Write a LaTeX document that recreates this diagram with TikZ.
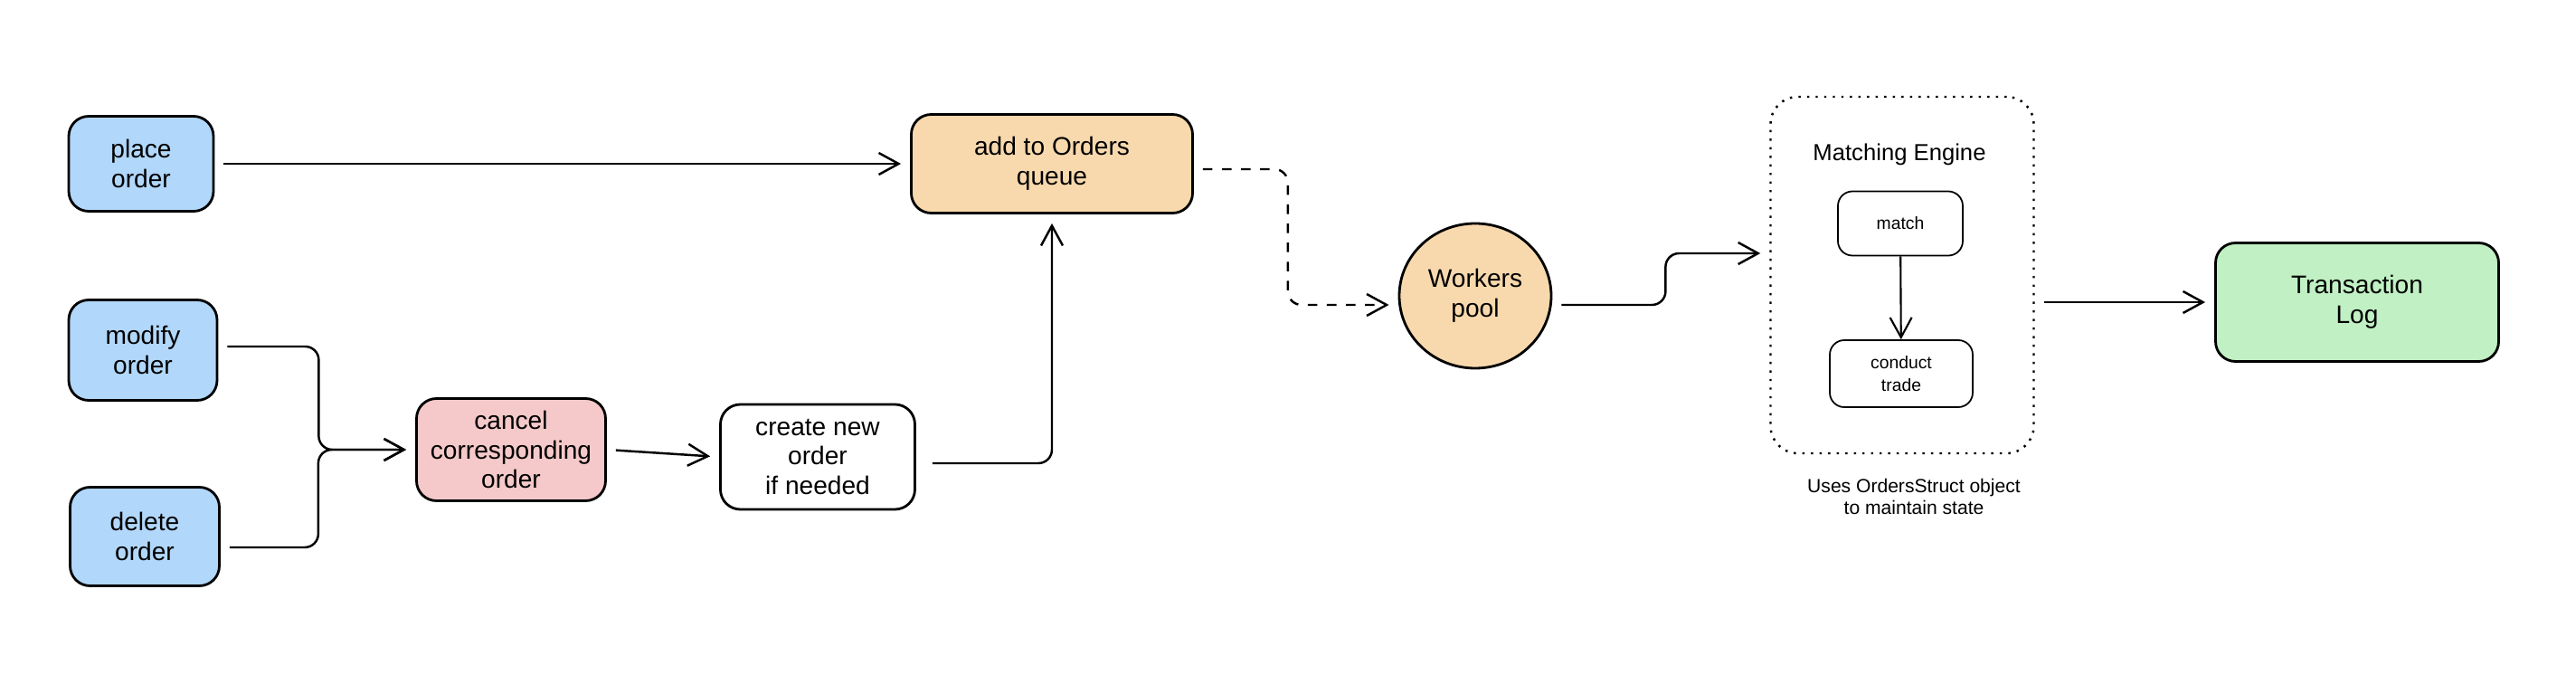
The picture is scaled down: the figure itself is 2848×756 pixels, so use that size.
\documentclass[tikz,border=0pt]{standalone}
\usepackage{fontspec}
\setmainfont{Liberation Sans}
\usepackage{tikz}
\usetikzlibrary{arrows.meta}
\usetikzlibrary{shapes.geometric}

\definecolor{orderblue}{HTML}{B1D7FA}
\definecolor{queueorange}{HTML}{F8D9AD}
\definecolor{cancelpink}{HTML}{F5C9C9}
\definecolor{loggreen}{HTML}{C0F0C3}

\begin{document}
\begin{tikzpicture}[x=0.1mm,y=-0.1mm,
    >={Straight Barb[length=2.2mm,width=2.4mm]},
    box/.style={draw,line width=0.8pt,rounded corners=2.2mm,align=center,
        inner sep=0pt,font=\fontsize{8}{9.3}\selectfont},
    smallbox/.style={draw,line width=0.5pt,rounded corners=1.6mm,align=center,
        inner sep=0pt,font=\fontsize{5.5}{7}\selectfont},
    flow/.style={->,line width=0.7pt,shorten <=1mm,shorten >=1mm}]
        \useasboundingbox (0,0) rectangle (2848,756);
        \node[box,fill=orderblue,minimum width=16mm,minimum height=10.5mm] (place) at (156,181) {place\\order};
        \node[box,fill=orderblue,minimum width=16.4mm,minimum height=11.1mm] (modify) at (158,387) {modify\\order};
        \node[box,fill=orderblue,minimum width=16.5mm,minimum height=10.9mm] (delete) at (160,593) {delete\\order};
        \node[box,fill=cancelpink,minimum width=20.9mm,minimum height=11.3mm] (cancel) at (565,497) {cancel\\corresponding\\order};
        \node[box,minimum width=21.5mm,minimum height=11.6mm] (create) at (904,505) {create new\\order\\if needed};
        \node[box,fill=queueorange,minimum width=31.1mm,minimum height=10.9mm] (queue) at (1163,181) {add to Orders\\queue};
        \node[box,ellipse,fill=queueorange,minimum width=16.8mm,minimum height=16mm] (workers) at (1631,327) {Workers\\pool};
        \node[draw,dotted,line width=0.7pt,rounded corners=3mm,minimum width=29.1mm,minimum height=39.4mm] (engine) at (2103,304) {};
        \node[font=\fontsize{7.3}{9}\selectfont] (enginetitle) at (2100,171) {Matching Engine};
        \node[smallbox,minimum width=13.8mm,minimum height=7.1mm] (match) at (2101,247) {match};
        \node[smallbox,minimum width=15.8mm,minimum height=7.4mm] (trade) at (2102,413) {conduct\\trade};
        \node[align=center,font=\fontsize{6}{6.8}\selectfont] (enginenote) at (2116,549) {Uses OrdersStruct object\\to maintain state};
        \node[box,fill=loggreen,minimum width=31.3mm,minimum height=13.1mm] (tlog) at (2606,334) {Transaction\\Log};

        \draw[flow] (place) -- (place -| queue.west);
        \draw[flow,rounded corners=1.5mm] ([yshift=0.4mm]modify.east) -- ++(111,0) |- (cancel.west);
        \draw[flow,rounded corners=1.5mm] ([yshift=-1.2mm]delete.east) -- ++(108,0) |- (cancel.west);
        \draw[flow] (cancel.east) -- (create.west);
        \draw[flow,rounded corners=1.5mm,shorten <=1.8mm] ([yshift=-0.7mm]create.east) -| (queue.south);
        \draw[flow,dashed,rounded corners=1.5mm] ([yshift=-0.6mm]queue.east) -- ++(104,0) |- ([yshift=-1mm]workers.west);
        \draw[flow,rounded corners=1.5mm] ([yshift=-1mm]workers.east) -- ++(125,0) |- ([yshift=2.4mm]engine.west);
        \draw[flow,line width=0.6pt,shorten <=0pt,shorten >=0pt] (match) -- (trade);
        \draw[flow] (engine.east |- tlog.west) -- (tlog.west);
    \end{tikzpicture}
\end{document}
